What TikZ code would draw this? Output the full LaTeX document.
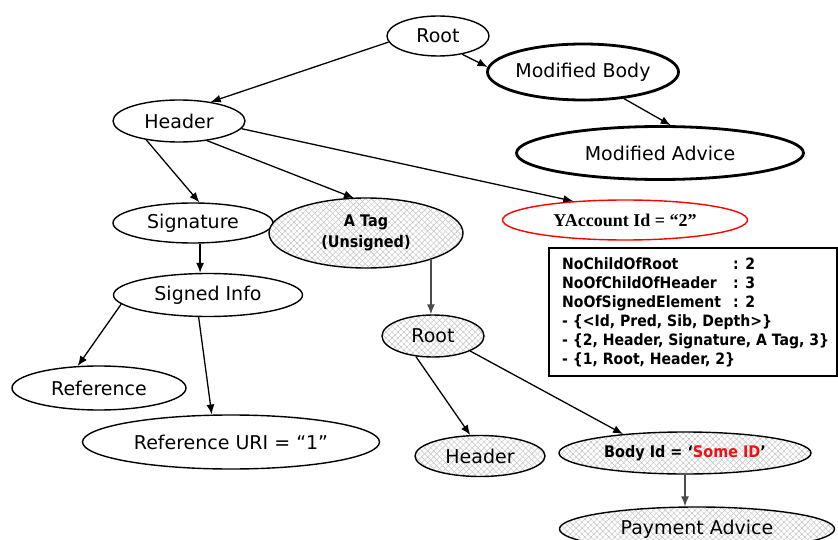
\documentclass[tikz,border=0pt]{standalone}
\usepackage{fontspec}
\setmainfont{DejaVu Sans}
\newfontfamily\tagfont[FakeStretch=0.9]{DejaVu Sans}
\newfontfamily\serifb{Liberation Serif}
\usetikzlibrary{shapes.geometric,arrows.meta,patterns.meta}
\definecolor{hatchgray}{gray}{0.76}
\definecolor{idred}{RGB}{235,20,20}

\tikzset{
  oval/.style={ellipse, draw, line width=1.4pt, inner sep=0pt, fill=white,
    font=\fontsize{19}{22}\selectfont},
  boldoval/.style={oval, line width=2.8pt},
  redoval/.style={oval, draw=red, font=\serifb\bfseries\fontsize{18}{20}\selectfont},
  hatched/.style={oval,
    preaction={fill=white},
    preaction={pattern={Lines[angle=-45,distance=4.2pt,line width=0.45pt]}, pattern color=hatchgray},
    pattern={Lines[angle=45,distance=4.2pt,line width=0.45pt]}, pattern color=hatchgray},
  smalltext/.style={font=\tagfont\bfseries\fontsize{16}{21}\selectfont},
  conn/.style={-{Latex[length=10pt,width=8pt]}, line width=1.3pt},
  greyconn/.style={conn, draw=black!70},
  infobox/.style={draw, line width=2pt, inner sep=0pt, minimum width=288pt, minimum height=128pt}
}

\begin{document}
\begin{tikzpicture}[x=1pt,y=-1pt]
\useasboundingbox (0,0) rectangle (838,540);

% upper part of the tree
\node[oval, minimum width=102pt, minimum height=40pt] (root) at (438,36) {Root};
\node[boldoval, minimum width=191pt, minimum height=56pt] (modbody) at (583,72) {Modified Body};
\node[boldoval, minimum width=287pt, minimum height=53pt] (modadvice) at (660,153) {Modified Advice};
\node[oval, minimum width=132pt, minimum height=42pt] (header) at (179,121) {Header};

% second level
\node[oval, minimum width=160pt, minimum height=40pt] (signature) at (193,223) {Signature};
\node[hatched, smalltext, align=center, minimum width=194pt, minimum height=70pt] (atag) at (366,233) {A Tag\\(Unsigned)};
\node[redoval, minimum width=245pt, minimum height=40pt] (yaccount) at (625,220) {YAccount Id = “2”};

% signature subtree
\node[oval, minimum width=189pt, minimum height=43pt] (signedinfo) at (208,295) {Signed Info};
\node[oval, minimum width=174pt, minimum height=44pt] (reference) at (99,388) {Reference};
\node[oval, minimum width=297pt, minimum height=54pt] (refuri) at (231,442) {Reference URI = “1”};

% unsigned subtree
\node[hatched, minimum width=102pt, minimum height=42pt] (root2) at (433,336) {Root};
\node[hatched, minimum width=130pt, minimum height=41pt] (header2) at (480,456) {Header};
\node[hatched, smalltext, minimum width=252pt, minimum height=42pt] (bodyid) at (685,453)
  {Body Id = ‘\textcolor{idred}{Some ID}’};
\node[hatched, minimum width=275pt, minimum height=44pt] (payment) at (697,529) {Payment Advice};

% element counts
\node[infobox, anchor=north west] (box) at (548,247) {};
\node[anchor=west, align=left, inner sep=0pt, font=\tagfont\bfseries\fontsize{15.6}{19}\selectfont]
  (boxtext) at ([xshift=14pt]box.west)
  {\makebox[171pt][l]{NoChildOfRoot}: 2\\
   \makebox[171pt][l]{NoOfChildOfHeader}: 3\\
   \makebox[171pt][l]{NoOfSignedElement}: 2\\
   - \{<Id, Pred, Sib, Depth>\}\\
   - \{2, Header, Signature, A Tag, 3\}\\
   - \{1, Root, Header, 2\}};

% connectors
\draw[conn] (root.187) -- (header.31);
\draw[conn] (root.-37) -- (modbody.177);
\draw[conn] (modbody.-33) -- (modadvice.69);
\draw[conn] (header.210) -- (signature.73);
\draw[conn] (header.-35) -- (atag.109);
\draw[conn] (header.-7) -- (yaccount.160);
\draw[conn] (signature.-71) -- (signature.-71 |- signedinfo.north);
\draw[conn] (signedinfo.186) -- (reference.134);
\draw[conn] (signedinfo.247) -- (refuri.125);
\draw[greyconn] (atag.-22) -- (atag.-22 |- root2.north);
\draw[conn] (root2.230) -- (header2.115);
\draw[conn] (root2.-22) -- (bodyid.163);
\draw[greyconn] (bodyid.south) -- (bodyid.south |- payment.north);
\end{tikzpicture}
\end{document}
